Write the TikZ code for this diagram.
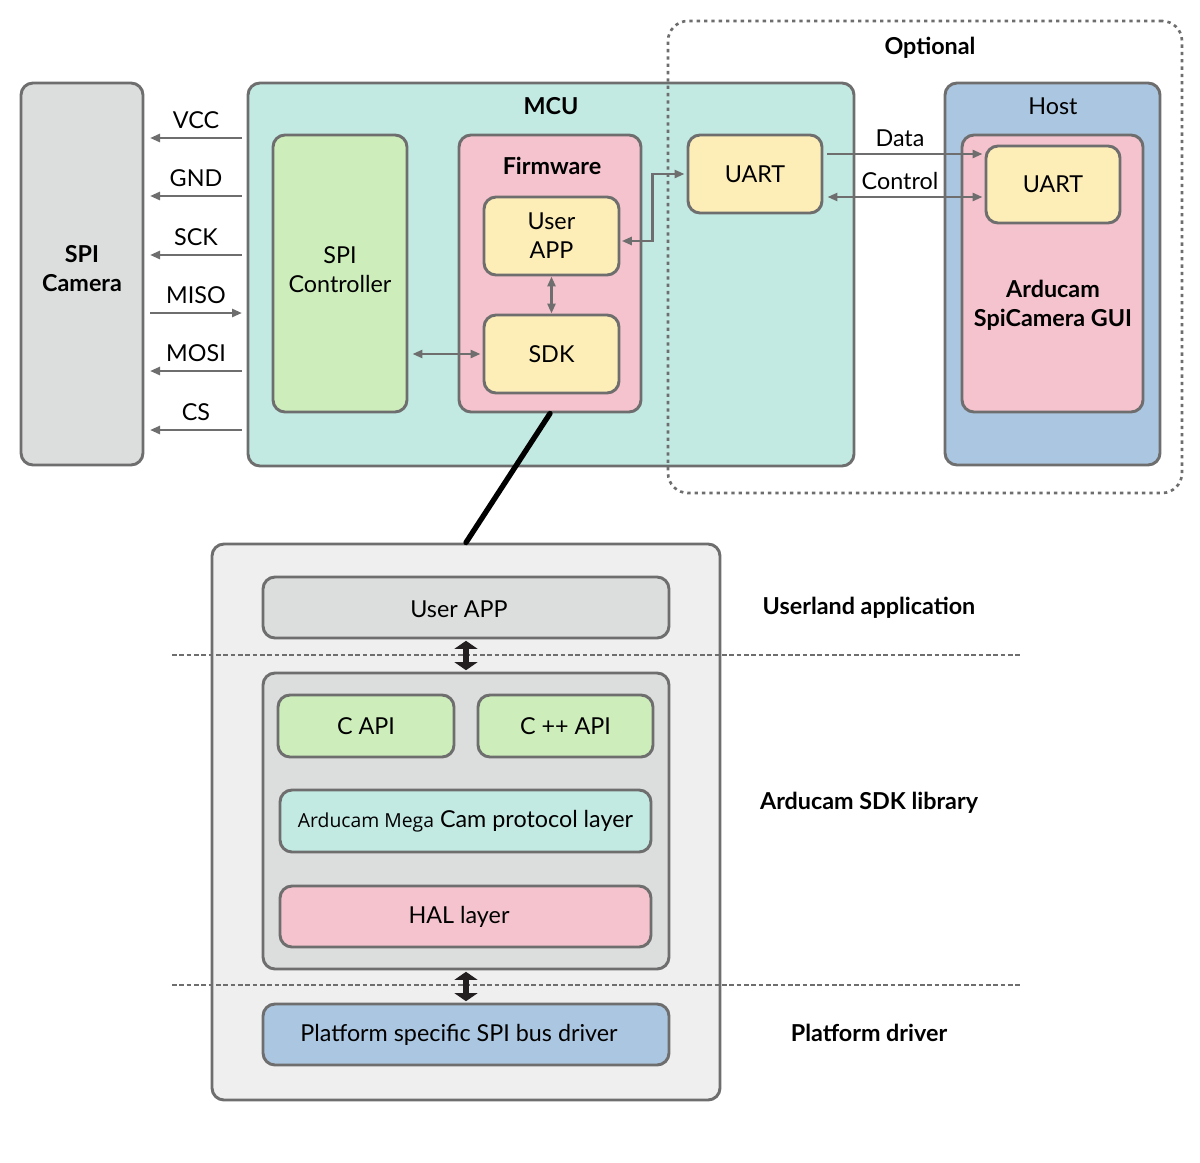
\documentclass[tikz,border=0pt]{standalone}
\usepackage{fontspec}
\setmainfont{Lato}
\newfontfamily\megafont{Open Sans}
\usetikzlibrary{arrows.meta}

\definecolor{edgegray}{HTML}{6E6E6E}
\definecolor{dashgray}{HTML}{6E6E6E}
\definecolor{camgray}{HTML}{DCDDDD}
\definecolor{mcuteal}{HTML}{C2EAE3}
\definecolor{ctlgreen}{HTML}{CDEEBB}
\definecolor{fwpink}{HTML}{F5C3CD}
\definecolor{appyellow}{HTML}{FDEDB7}
\definecolor{hostblue}{HTML}{ABC6E0}
\definecolor{stackbg}{HTML}{EFEFEF}
\definecolor{inkdark}{HTML}{231F20}

\newcommand{\lblfont}{\fontsize{17.5}{21.75}\selectfont}
\newcommand{\ttlfont}{\fontsize{17.5}{21.75}\selectfont\bfseries}

\tikzset{every picture/.style={line width=0.75pt}}
\tikzset{
  blk/.style={draw=edgegray, line width=2.2pt, rounded corners=9pt, inner sep=0pt, align=center, font=\lblfont},
  ttl/.style={inner sep=0.75pt, align=center, font=\ttlfont},
  txt/.style={inner sep=0.75pt, align=center, font=\lblfont},
  optbox/.style={draw=dashgray, line width=2pt, dash pattern={on 2.5pt off 3pt}, rounded corners=15pt, inner sep=0pt},
  sig/.style={draw=edgegray, line width=2.2pt},
  divider/.style={draw=dashgray, line width=1.8pt, dash pattern={on 3.5pt off 2pt}},
  bigarrow/.style={draw=inkdark, line width=5pt, {Triangle[length=6pt,width=17pt]}-{Triangle[length=6pt,width=17pt]}},
  link/.style={draw=black, line width=4pt, line cap=round},
  >={Triangle[length=7.5pt,width=6pt]}
}

\begin{document}
\begin{tikzpicture}[x=0.75pt,y=0.75pt,yscale=-1,xscale=1]
  \useasboundingbox (0,0) rectangle (1200,1163);

  % Camera
  \node[blk, fill=camgray, minimum width=91.5pt, minimum height=286.5pt] (camera) at (82,274) {};
  \node[ttl] (camlabel) at (82,269) {SPI\\Camera};

  % MCU
  \node[blk, fill=mcuteal, minimum width=454.5pt, minimum height=287.25pt] (mcu) at (551,274.5) {};
  \node[ttl] (mcutitle) at (551,106) {MCU};
  \node[blk, fill=ctlgreen, minimum width=100.5pt, minimum height=207.75pt] (spictl) at (340,273.5) {};
  \node[txt] (ctllabel) at (340,270) {SPI\\Controller};
  \node[blk, fill=fwpink, minimum width=136.5pt, minimum height=207.75pt] (firmware) at (550,273.5) {};
  \node[ttl] (fwtitle) at (552,166) {Firmware};
  \node[blk, fill=appyellow, minimum width=101.25pt, minimum height=58.5pt] (uapp) at (551.5,236) {User\\APP};
  \node[blk, fill=appyellow, minimum width=101.25pt, minimum height=58.5pt] (sdk) at (551.5,354) {SDK};

  % Optional part
  \node[optbox, minimum width=385.5pt, minimum height=354pt] (optional) at (925,257) {};
  \node[ttl] (opttitle) at (930,48) {Optional};
  \node[blk, fill=appyellow, minimum width=100.5pt, minimum height=58.5pt] (uartm) at (755,174) {UART};

  % Host
  \node[blk, fill=hostblue, minimum width=161.25pt, minimum height=286.5pt] (host) at (1052.5,274) {};
  \node[txt] (hosttitle) at (1053,106) {Host};
  \node[blk, fill=fwpink, minimum width=135.75pt, minimum height=207.75pt] (gui) at (1052.5,273.5) {};
  \node[blk, fill=appyellow, minimum width=100.5pt, minimum height=57.75pt] (uarth) at (1053,184.5) {UART};
  \node[ttl] (guilabel) at (1053,305) {Arducam\\SpiCamera GUI};

  % SPI signals
  \foreach \name/\y/\from/\to in {VCC/138/b/a, GND/196/b/a, SCK/255/b/a, MISO/313/a/b, MOSI/371/b/a, CS/430/b/a} {
    \coordinate (s\name a) at (150,\y);
    \coordinate (s\name b) at (242,\y);
    \draw[sig,->] (s\name\from) -- (s\name\to);
    \node[txt] (l\name) at (196,\y-18) {\name};
  }

  % MCU links
  \draw[sig,<->] (uapp) -- (sdk);
  \draw[sig,<->, shorten <=3pt, shorten >=1.5pt] (spictl.east |- sdk.west) -- (sdk.west);
  \draw[sig,<->, shorten <=1pt, shorten >=1.5pt] ([yshift=3.75pt]uapp.east) -| ([xshift=-25.5pt]uartm.west) -- (uartm.west);

  % UART links
  \draw[sig,->, shorten <=3pt, shorten >=1.5pt] ([yshift=-15pt]uartm.east) -- ([yshift=-15pt]uartm.east -| uarth.west);
  \draw[sig,<->, shorten <=3pt, shorten >=1.5pt] ([yshift=17.25pt]uartm.east) -- ([yshift=17.25pt]uartm.east -| uarth.west);
  \node[txt] (ldata) at (900,138) {Data};
  \node[txt] (lcontrol) at (900,181) {Control};

  % Lower stack
  \node[blk, fill=stackbg, minimum width=381pt, minimum height=417pt] (stack) at (466,822) {};
  \draw[link] (firmware.south) -- (stack.north);

  \coordinate (divAl) at (172,655);
  \coordinate (divAr) at (1020,655);
  \coordinate (divBl) at (172,985);
  \coordinate (divBr) at (1020,985);
  \draw[divider] (divAl) -- (divAr);
  \draw[divider] (divBl) -- (divBr);

  \node[blk, fill=camgray, minimum width=304.5pt, minimum height=45.75pt] (uappl) at (466,607.5) {};
  \node[txt] (uappllabel) at (459,609) {User APP};
  \node[blk, fill=camgray, minimum width=304.5pt, minimum height=222pt] (sdklib) at (466,821) {};
  \node[blk, fill=ctlgreen, minimum width=132pt, minimum height=46.5pt] (capi) at (366,726) {C API};
  \node[blk, fill=ctlgreen, minimum width=131.25pt, minimum height=46.5pt] (cppapi) at (565.5,726) {C ++ API};
  \node[blk, fill=mcuteal, minimum width=278.25pt, minimum height=46.5pt] (proto) at (465.5,821) {{\megafont\fontsize{14.5}{17}\selectfont Arducam Mega} Cam protocol layer};
  \node[blk, fill=fwpink, minimum width=278.25pt, minimum height=45.75pt] (hal) at (465.5,916.5) {};
  \node[txt] (hallabel) at (459,917) {HAL layer};
  \node[blk, fill=hostblue, minimum width=304.5pt, minimum height=45.75pt] (driver) at (466,1034.5) {};
  \node[txt] (driverlabel) at (459,1035) {Platform specific SPI bus driver};

  \draw[bigarrow, shorten <=1pt, shorten >=1pt] (uappl) -- (sdklib);
  \draw[bigarrow, shorten <=1pt, shorten >=1pt] (sdklib) -- (driver);

  % Text Node
  \node[ttl] (lbluser) at (869,608) {Userland application};
  \node[ttl] (lblsdk) at (869,803) {Arducam SDK library};
  \node[ttl] (lbldriver) at (869,1033) {Platform driver};

\end{tikzpicture}
\end{document}
